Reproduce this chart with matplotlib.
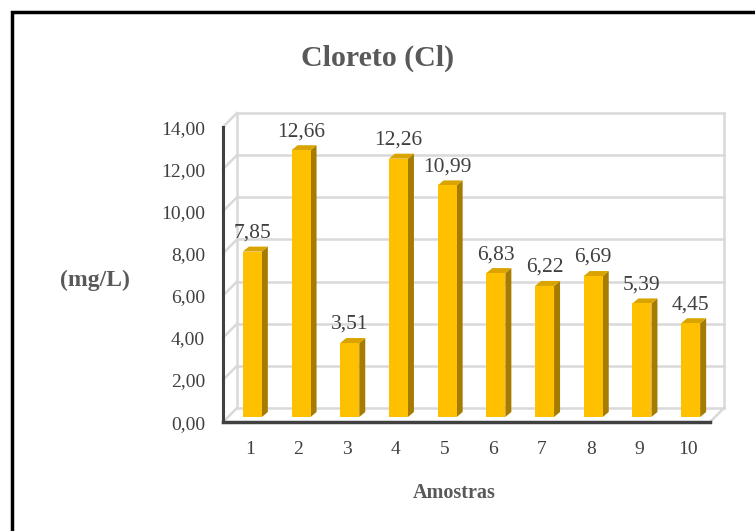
import matplotlib
matplotlib.use('Agg')
from matplotlib import pyplot as plt
from matplotlib.patches import Rectangle, Polygon

# dados
amostras = ['1', '2', '3', '4', '5', '6', '7', '8', '9', '10']
cloreto = [7.85, 12.66, 3.51, 12.26, 10.99, 6.83, 6.22, 6.69, 5.39, 4.45]
yticks = [0, 2, 4, 6, 8, 10, 12, 14]

plt.rcParams['font.family'] = ['Liberation Serif', 'DejaVu Serif']

W, H = 755, 531
fig = plt.figure(figsize=(W / 100, H / 100), dpi=100)

# eixo "frontal" (pixels: x 223..710, y 127..422)
L, R, T, B = 223, 710, 127, 422
ax = fig.add_axes([L / W, 1 - B / H, (R - L) / W, (B - T) / H])
ax.set_xlim(0.5, 10.5)
ax.set_ylim(0, 14)
ax.axis('off')

# profundidade em unidades de dados
px_x = 10 / (R - L)
px_y = 14 / (B - T)
dx, dy = 14 * px_x, 14 * px_y       # parede do fundo
bdx, bdy = 5 * px_x, 5 * px_y       # deslocamento das barras
sdx, sdy = 6 * px_x, 5 * px_y       # espessura das barras

grid_c = '#d9d9d9'
for v in yticks:
    ax.plot([0.5 + dx, 10.5 + dx], [v + dy, v + dy], color=grid_c, lw=1.8, clip_on=False, zorder=1)
    ax.plot([0.5, 0.5 + dx], [v, v + dy], color=grid_c, lw=1.8, clip_on=False, zorder=1)
ax.plot([0.5 + dx, 0.5 + dx], [dy, 14 + dy], color=grid_c, lw=1.8, clip_on=False, zorder=1)
ax.plot([10.5 + dx, 10.5 + dx], [dy, 14 + dy], color=grid_c, lw=1.8, clip_on=False, zorder=1)
ax.plot([10.5, 10.5 + dx], [0, dy], color=grid_c, lw=1.8, clip_on=False, zorder=1)

# barras 3D
w = 19 * px_x
for i, v in enumerate(cloreto):
    x = i + 1
    xl = x - w / 2 + bdx
    xr = xl + w
    y0 = bdy
    ax.add_patch(Polygon([(xr, y0), (xr, y0 + v), (xr + sdx, y0 + v + sdy), (xr + sdx, y0 + sdy)],
                         closed=True, facecolor='#a67c00', edgecolor='none', zorder=3, clip_on=False))
    ax.add_patch(Polygon([(xl, y0 + v), (xr, y0 + v), (xr + sdx, y0 + v + sdy), (xl + sdx, y0 + v + sdy)],
                         closed=True, facecolor='#d9a300', edgecolor='none', zorder=3, clip_on=False))
    ax.add_patch(Rectangle((xl, y0), w, v, facecolor='#ffc000', edgecolor='none', zorder=4, clip_on=False))
    ax.text(x + bdx, y0 + v + sdy + 4 * px_y, f'{v:.2f}'.replace('.', ','), ha='center', va='bottom',
            fontsize=15.5, color='#404040', zorder=5)

# eixos frontais
ax.plot([0.5, 0.5], [0, 14], color='#404040', lw=2.2, clip_on=False, zorder=6)
ax.plot([0.5, 10.5], [0, 0], color='#404040', lw=2.5, clip_on=False, zorder=6)

for v in yticks:
    ax.text(0.5 - 18 * px_x, v - 0.1, f'{v:.2f}'.replace('.', ','), ha='right', va='center',
            fontsize=14, color='#404040')
for i, a in enumerate(amostras):
    ax.text(i + 1.05, -19 * px_y, a, ha='center', va='top', fontsize=14, color='#404040')

fig.text(378 / W, 1 - 58 / H, 'Cloreto (Cl)', ha='center', va='center', fontsize=21.5,
         fontweight='bold', color='#595959')
fig.text(95 / W, 1 - 280 / H, '(mg/L)', ha='center', va='center', fontsize=17,
         fontweight='bold', color='#595959')
fig.text(454 / W, 1 - 493 / H, 'Amostras', ha='center', va='center', fontsize=14.5,
         fontweight='bold', color='#595959')

# moldura
fig.patches.append(Rectangle((11.5 / W, -0.1), 1.2, (1 - 11.5 / H) + 0.1, transform=fig.transFigure,
                             fill=False, edgecolor='black', lw=2.5))

fig.savefig('out.png', dpi=100)
